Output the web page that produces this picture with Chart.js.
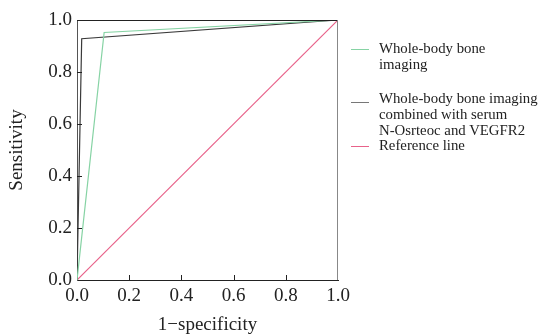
<!DOCTYPE html>
<html>
<head>
<meta charset="utf-8">
<script src="https://cdn.jsdelivr.net/npm/chart.js@4/dist/chart.umd.min.js"></script>
<style>
  html, body { margin: 0; padding: 0; background: #fff; }
  #wrap { position: relative; width: 542px; height: 336px; }
  #c { position: absolute; left: 0; top: 0; }
  .leg { position: absolute; font-family: "Liberation Serif", "Times New Roman", serif; font-size: 14.8px; line-height: 16px; color: #222; }
  .leg .sw { position: absolute; left: 0; width: 18px; height: 0; border-top: 1.3px solid; }
  .leg .tx { position: absolute; left: 28px; white-space: nowrap; }
</style>
</head>
<body>
<div id="wrap">
  <canvas id="c" width="542" height="336"></canvas>
  <div id="legend"></div>
</div>
<script>
// ---- data ----
const seriesNames = [
  "Whole-body bone imaging",
  "Whole-body bone imaging combined with serum N-Osrteoc and VEGFR2",
  "Reference line"
];
const legendLines = [
  ["Whole-body bone", "imaging"],
  ["Whole-body bone imaging", "combined with serum", "N-Osrteoc and VEGFR2"],
  ["Reference line"]
];
const boneX = [0, 0.104, 1];
const boneY = [0, 0.952, 1];
const combinedX = [0, 0.018, 1];
const combinedY = [0, 0.928, 1];
const refX = [0, 1];
const refY = [0, 1];
const tickValues = [0, 0.2, 0.4, 0.6, 0.8, 1.0];
const xTitle = "1\u2212specificity";
const yTitle = "Sensitivity";

const colors = ["#86d3a4", "#3a3a3a", "#e8628a"];
const legendColors = ["#86d3a4", "#777777", "#e8628a"];

function pts(xs, ys) { return xs.map((x, i) => ({ x: x, y: ys[i] })); }

const serif = "'Liberation Serif', 'Times New Roman', serif";

const frame = {
  id: 'frame',
  afterDraw(chart) {
    const { ctx, chartArea: a, scales } = chart;
    ctx.save();
    ctx.lineWidth = 1;
    ctx.strokeStyle = '#222';
    ctx.beginPath();
    ctx.moveTo(a.left, a.top + 0.5); ctx.lineTo(a.right, a.top + 0.5);
    ctx.stroke();
    ctx.strokeStyle = '#888';
    ctx.beginPath();
    ctx.moveTo(a.right - 0.5, a.top); ctx.lineTo(a.right - 0.5, a.bottom);
    ctx.stroke();
    ctx.strokeStyle = '#222';
    tickValues.slice(1, -1).forEach(v => {
      const px = Math.round(scales.x.getPixelForValue(v)) + 0.5;
      ctx.beginPath(); ctx.moveTo(px, a.bottom); ctx.lineTo(px, a.bottom - 5); ctx.stroke();
      const py = Math.round(scales.y.getPixelForValue(v)) + 0.5;
      ctx.beginPath(); ctx.moveTo(a.left, py); ctx.lineTo(a.left + 5, py); ctx.stroke();
    });
    ctx.restore();
  }
};

const chart = new Chart(document.getElementById('c'), {
  type: 'scatter',
  data: {
    datasets: [
      { label: seriesNames[0], data: pts(boneX, boneY), showLine: true, borderColor: colors[0], borderWidth: 1.2, pointRadius: 0, fill: false, tension: 0 },
      { label: seriesNames[1], data: pts(combinedX, combinedY), showLine: true, borderColor: colors[1], borderWidth: 1.2, pointRadius: 0, fill: false, tension: 0 },
      { label: seriesNames[2], data: pts(refX, refY), showLine: true, borderColor: colors[2], borderWidth: 1.2, pointRadius: 0, fill: false, tension: 0 }
    ]
  },
  options: {
    responsive: false,
    animation: false,
    events: [],
    layout: { padding: { top: 20, right: 204, left: 0, bottom: 0 } },
    plugins: { legend: { display: false }, tooltip: { enabled: false } },
    scales: {
      x: {
        type: 'linear', min: 0, max: 1,
        afterBuildTicks: s => { s.ticks = tickValues.map(v => ({ value: v })); },
        afterFit: s => { s.height = 56; },
        grid: { display: true, drawOnChartArea: false, drawTicks: false },
        border: { display: true, color: '#222', width: 1 },
        ticks: { padding: 5, color: '#222', font: { family: serif, size: 19 }, callback: v => v.toFixed(1), maxRotation: 0 },
        title: { display: true, text: xTitle, color: '#222', font: { family: serif, size: 19 }, padding: { top: 3, bottom: 0 } }
      },
      y: {
        type: 'linear', min: 0, max: 1,
        afterBuildTicks: s => { s.ticks = tickValues.map(v => ({ value: v })); },
        afterFit: s => { s.width = 77; },
        grid: { display: true, drawOnChartArea: false, drawTicks: false },
        border: { display: true, color: '#555', width: 1 },
        ticks: { padding: 5, color: '#222', font: { family: serif, size: 19 }, callback: v => v.toFixed(1) },
        title: { display: true, text: yTitle, color: '#222', font: { family: serif, size: 19 }, padding: { top: 6, bottom: 0 } }
      }
    }
  },
  plugins: [frame]
});

const legendTops = [40, 90, 137];
const swatchOffsets = [9, 11.5, 8.5];
const legendEl = document.getElementById('legend');
legendLines.forEach((lines, i) => {
  const item = document.createElement('div');
  item.className = 'leg';
  item.style.left = '351px';
  item.style.top = legendTops[i] + 'px';
  const sw = document.createElement('div');
  sw.className = 'sw';
  sw.style.borderTopColor = legendColors[i];
  sw.style.top = swatchOffsets[i] + 'px';
  item.appendChild(sw);
  const tx = document.createElement('div');
  tx.className = 'tx';
  tx.innerHTML = lines.join('<br>');
  item.appendChild(tx);
  legendEl.appendChild(item);
});
</script>
</body>
</html>
